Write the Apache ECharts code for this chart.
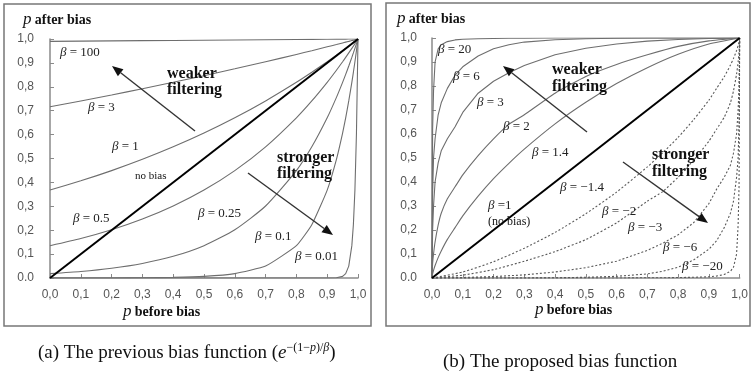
<!DOCTYPE html>
<html>
<head>
<meta charset="utf-8" />
<title>bias functions</title>
<script src="https://cdn.jsdelivr.net/npm/echarts@6/dist/echarts.min.js"></script>
<style>
  html, body { margin: 0; padding: 0; background: #fff; }
  #main { width: 751px; height: 375px; }
</style>
</head>
<body>
<div id="main"></div>
<script type="text/javascript">

// tick labels
var xTicks = ['0,0','0,1','0,2','0,3','0,4','0,5','0,6','0,7','0,8','0,9','1,0'];
var yTicks = ['0.0','0,1','0,2','0,3','0,4','0,5','0,6','0,7','0,8','0,9','1,0'];

// (a) previous bias function, p before bias
var pLeft = [0, 0.1, 0.2, 0.3, 0.4, 0.5, 0.6, 0.7, 0.8, 0.85, 0.9, 0.93, 0.95, 0.96, 0.97, 0.98, 0.985, 0.99, 0.995, 1];
var aB100 = [0.990, 0.991, 0.992, 0.993, 0.994, 0.995, 0.996, 0.997, 0.998, 0.9985, 0.999, 0.9993, 0.9995, 0.9996, 0.9997, 0.9998, 0.9999, 0.9999, 1, 1];
var aB3   = [0.7165, 0.7408, 0.7659, 0.7919, 0.8187, 0.8465, 0.8752, 0.9048, 0.9355, 0.9512, 0.9672, 0.9769, 0.9835, 0.9868, 0.99, 0.9934, 0.995, 0.9967, 0.9983, 1];
var aB1   = [0.3679, 0.4066, 0.4493, 0.4966, 0.5488, 0.6065, 0.6703, 0.7408, 0.8187, 0.8607, 0.9048, 0.9324, 0.9512, 0.9608, 0.9704, 0.9802, 0.9851, 0.99, 0.995, 1];
var aB05  = [0.1353, 0.1653, 0.2019, 0.2466, 0.3012, 0.3679, 0.4493, 0.5488, 0.6703, 0.7408, 0.8187, 0.8694, 0.9048, 0.9231, 0.9418, 0.9608, 0.9704, 0.9802, 0.99, 1];
var aB025 = [0.0183, 0.0273, 0.0408, 0.0608, 0.0907, 0.1353, 0.2019, 0.3012, 0.4493, 0.5488, 0.6703, 0.7558, 0.8187, 0.8521, 0.8869, 0.9231, 0.9418, 0.9608, 0.9802, 1];
var aB01  = [0, 0.0001, 0.0003, 0.0009, 0.0025, 0.0067, 0.0183, 0.0498, 0.1353, 0.2231, 0.3679, 0.4966, 0.6065, 0.6703, 0.7408, 0.8187, 0.8607, 0.9048, 0.9512, 1];
var aB001 = [0, 0, 0, 0, 0, 0, 0, 0, 0, 0, 0, 0.0009, 0.0067, 0.0183, 0.0498, 0.1353, 0.2231, 0.3679, 0.6065, 1];
var noBias = [0, 1];

// (b) proposed bias function, weaker filtering side
var pPos = [0, 0.002, 0.005, 0.01, 0.02, 0.03, 0.05, 0.075, 0.1, 0.15, 0.2, 0.25, 0.3, 0.4, 0.5, 0.6, 0.7, 0.8, 0.9, 1];
var bB20  = [0, 0.62, 0.78, 0.90, 0.955, 0.972, 0.985, 0.992, 0.995, 0.997, 0.998, 0.999, 0.999, 1, 1, 1, 1, 1, 1, 1];
var bB6   = [0, 0.35, 0.5, 0.58, 0.68, 0.73, 0.79, 0.845, 0.88, 0.925, 0.955, 0.972, 0.983, 0.993, 0.997, 0.999, 1, 1, 1, 1];
var bB3   = [0, 0.2, 0.3, 0.4, 0.48, 0.53, 0.58, 0.63, 0.69, 0.77, 0.82, 0.855, 0.885, 0.93, 0.957, 0.975, 0.987, 0.994, 0.998, 1];
var bB2   = [0, 0.06, 0.1, 0.15, 0.22, 0.27, 0.33, 0.38, 0.43, 0.51, 0.58, 0.64, 0.68, 0.77, 0.84, 0.89, 0.93, 0.965, 0.988, 1];
var bB14  = [0, 0.0166, 0.032, 0.052, 0.085, 0.113, 0.161, 0.21, 0.259, 0.341, 0.414, 0.478, 0.537, 0.642, 0.732, 0.81, 0.876, 0.932, 0.975, 1];

// (b) stronger filtering side (dashed)
var pNeg = [0, 0.1, 0.2, 0.3, 0.4, 0.5, 0.6, 0.7, 0.75, 0.8, 0.85, 0.9, 0.925, 0.95, 0.97, 0.98, 0.99, 0.995, 0.998, 1];
var bBm14 = [0, 0.025, 0.068, 0.124, 0.19, 0.268, 0.358, 0.463, 0.522, 0.586, 0.659, 0.741, 0.79, 0.839, 0.887, 0.915, 0.948, 0.968, 0.983, 1];
var bBm2  = [0, 0.012, 0.035, 0.07, 0.11, 0.16, 0.23, 0.32, 0.36, 0.42, 0.49, 0.57, 0.62, 0.67, 0.73, 0.78, 0.85, 0.90, 0.94, 1];
var bBm3  = [0, 0.002, 0.006, 0.013, 0.025, 0.043, 0.07, 0.115, 0.145, 0.18, 0.23, 0.31, 0.37, 0.42, 0.47, 0.52, 0.60, 0.70, 0.80, 1];
var bBm6  = [0, 0, 0, 0, 0.001, 0.003, 0.007, 0.017, 0.028, 0.045, 0.075, 0.12, 0.155, 0.21, 0.27, 0.32, 0.42, 0.5, 0.65, 1];
var bBm20 = [0, 0, 0, 0, 0, 0, 0, 0.001, 0.001, 0.002, 0.003, 0.005, 0.008, 0.015, 0.028, 0.045, 0.10, 0.22, 0.38, 1];

var serif = '"Liberation Serif", "DejaVu Serif", serif';
var sans = '"Liberation Sans", Arial, sans-serif';

function pair(xs, ys) {
    return xs.map(function (x, i) { return [x, ys[i]]; });
}

// sm: light smoothing for the gentle curves only, the corner-hugging ones stay straight segments
function curve(idx, xs, ys, dashed, sm) {
    return {
        type: 'line', xAxisIndex: idx, yAxisIndex: idx,
        data: pair(xs, ys), showSymbol: false, symbol: 'none',
        smooth: sm || false, silent: true,
        lineStyle: { color: dashed ? '#5a5a5a' : '#6e6e6e', width: 1.1, type: dashed ? [2, 2] : 'solid' }
    };
}

function straight(idx) {
    return {
        type: 'line', xAxisIndex: idx, yAxisIndex: idx, z: 5,
        data: pair(noBias, noBias), showSymbol: false, symbol: 'none', silent: true,
        lineStyle: { color: '#000', width: 2 }
    };
}

function xAxis(gi) {
    return {
        type: 'value', gridIndex: gi, min: 0, max: 1, interval: 0.1,
        axisLine: { show: true, lineStyle: { color: '#8a8a8a', width: 1.5 } },
        axisTick: { show: true, inside: true, length: 4, lineStyle: { color: '#8a8a8a' } },
        splitLine: { show: false },
        axisLabel: { margin: 11, fontFamily: sans, fontSize: 12, color: '#555',
            formatter: function (v) { return xTicks[Math.round(v * 10)]; } }
    };
}

function yAxis(gi, m) {
    return {
        type: 'value', gridIndex: gi, min: 0, max: 1, interval: 0.1,
        axisLine: { show: true, lineStyle: { color: '#8a8a8a', width: 1.5 } },
        axisTick: { show: true, inside: true, length: 4, lineStyle: { color: '#8a8a8a' } },
        splitLine: { show: false },
        axisLabel: { margin: m, fontFamily: sans, fontSize: 12, color: '#555',
            formatter: function (v) { return yTicks[Math.round(v * 10)]; } }
    };
}

var richBeta = {
    i: { fontFamily: serif, fontStyle: 'italic', fontSize: 13, fill: '#222' },
    n: { fontFamily: serif, fontSize: 13, fill: '#222' }
};

function label(x, y, txt) {
    return { type: 'text', x: x, y: y, z: 20, style: {
        text: '{i|β}{n|' + txt + '}', rich: richBeta, textVerticalAlign: 'middle' } };
}

function plain(x, y, txt, size, bold) {
    return { type: 'text', x: x, y: y, z: 20, style: {
        text: txt, font: (bold ? 'bold ' : '') + size + 'px ' + serif, fill: '#111', textVerticalAlign: 'middle' } };
}

function axisName(x, y, txt) {
    return { type: 'text', x: x, y: y, z: 20, style: {
        text: '{p|p} {b|' + txt + '}', textVerticalAlign: 'middle',
        rich: {
            p: { fontFamily: serif, fontStyle: 'italic', fontSize: 17, fill: '#111' },
            b: { fontFamily: serif, fontWeight: 'bold', fontSize: 14, fill: '#111' }
        } } };
}

function arrow(x1, y1, x2, y2) {
    var a = Math.atan2(y2 - y1, x2 - x1), L = 11, W = 4.5;
    var bx = x2 - L * Math.cos(a), by = y2 - L * Math.sin(a);
    return [
        { type: 'line', z: 15, shape: { x1: x1, y1: y1, x2: bx, y2: by }, style: { stroke: '#333', lineWidth: 1.4 } },
        { type: 'polygon', z: 15, shape: { points: [[x2, y2], [bx + W * Math.sin(a), by - W * Math.cos(a)], [bx - W * Math.sin(a), by + W * Math.cos(a)]] },
          style: { fill: '#111' } }
    ];
}

var graphics = [
    { type: 'rect', shape: { x: 4, y: 4, width: 367, height: 322 }, style: { fill: null, stroke: '#777', lineWidth: 1.5 } },
    { type: 'rect', shape: { x: 386, y: 3, width: 364, height: 323 }, style: { fill: null, stroke: '#777', lineWidth: 1.5 } },

    axisName(23, 20, 'after bias'),
    axisName(397, 19, 'after bias'),
    axisName(123, 312, 'before bias'),
    axisName(535, 310, 'before bias'),

    // panel (a) labels
    label(60, 53, ' = 100'),
    label(88, 108, ' = 3'),
    label(112, 147, ' = 1'),
    plain(135, 176, 'no bias', 11, false),
    label(73, 219, ' = 0.5'),
    label(198, 214, ' = 0.25'),
    label(255, 237, ' = 0.1'),
    label(295, 257, ' = 0.01'),
    plain(167, 74, 'weaker', 16, true),
    plain(167, 90, 'filtering', 16, true),
    plain(277, 158, 'stronger', 16, true),
    plain(277, 174, 'filtering', 16, true),

    // panel (b) labels
    label(438, 50, ' = 20'),
    label(453, 77, ' = 6'),
    label(477, 103, ' = 3'),
    label(503, 127, ' = 2'),
    label(532, 153, ' = 1.4'),
    label(488, 206, ' =1'),
    plain(488, 222, '(no bias)', 12, false),
    label(560, 188, ' = \u22121.4'),
    label(602, 212, ' = \u22122'),
    label(628, 228, ' = \u22123'),
    label(663, 248, ' = \u22126'),
    label(682, 267, ' = \u221220'),
    plain(552, 70, 'weaker', 16, true),
    plain(552, 87, 'filtering', 16, true),
    plain(652, 155, 'stronger', 16, true),
    plain(652, 172, 'filtering', 16, true),

    // captions
    { type: 'text', x: 38, y: 353, style: {
        text: '{t|(a) The previous bias function (}{e|e}{s|\u2212(1\u2212}{si|p}{s|)/}{si|\u03b2}{t|)}',
        textVerticalAlign: 'middle',
        rich: {
            t: { fontFamily: serif, fontSize: 19, fill: '#111' },
            e: { fontFamily: serif, fontStyle: 'italic', fontSize: 19, fill: '#111' },
            s: { fontFamily: serif, fontSize: 12, fill: '#111', verticalAlign: 'top', lineHeight: 22 },
            si: { fontFamily: serif, fontStyle: 'italic', fontSize: 12, fill: '#111', verticalAlign: 'top', lineHeight: 22 }
        } } },
    { type: 'text', x: 443, y: 362, style: {
        text: '(b) The proposed bias function', font: '19px ' + serif, fill: '#111', textVerticalAlign: 'middle' } }
];
graphics = graphics.concat(arrow(195, 131, 112, 66), arrow(248, 173, 333, 235),
                           arrow(587, 132, 503, 66), arrow(623, 162, 708, 223));

var myChart = echarts.init(document.getElementById('main'), null, { renderer: 'canvas' });

var option = {
    animation: false,
    backgroundColor: '#fff',
    grid: [
        { left: 50, top: 39, width: 308, height: 239 },
        { left: 432, top: 38, width: 311, height: 240 }
    ],
    xAxis: [xAxis(0), xAxis(1)],
    yAxis: [yAxis(0, 16), yAxis(1, 15)],
    series: [
        curve(0, pLeft, aB100), curve(0, pLeft, aB3, false, 0.2), curve(0, pLeft, aB1, false, 0.2),
        curve(0, pLeft, aB05, false, 0.2), curve(0, pLeft, aB025, false, 0.2), curve(0, pLeft, aB01, false, 0.15),
        curve(0, pLeft, aB001),
        straight(0),
        curve(1, pPos, bB20), curve(1, pPos, bB6), curve(1, pPos, bB3), curve(1, pPos, bB2, false, 0.15),
        curve(1, pPos, bB14, false, 0.2),
        curve(1, pNeg, bBm14, true, 0.2), curve(1, pNeg, bBm2, true, 0.15), curve(1, pNeg, bBm3, true),
        curve(1, pNeg, bBm6, true), curve(1, pNeg, bBm20, true),
        straight(1)
    ],
    graphic: graphics
};

myChart.setOption(option);
</script>
</body>
</html>
